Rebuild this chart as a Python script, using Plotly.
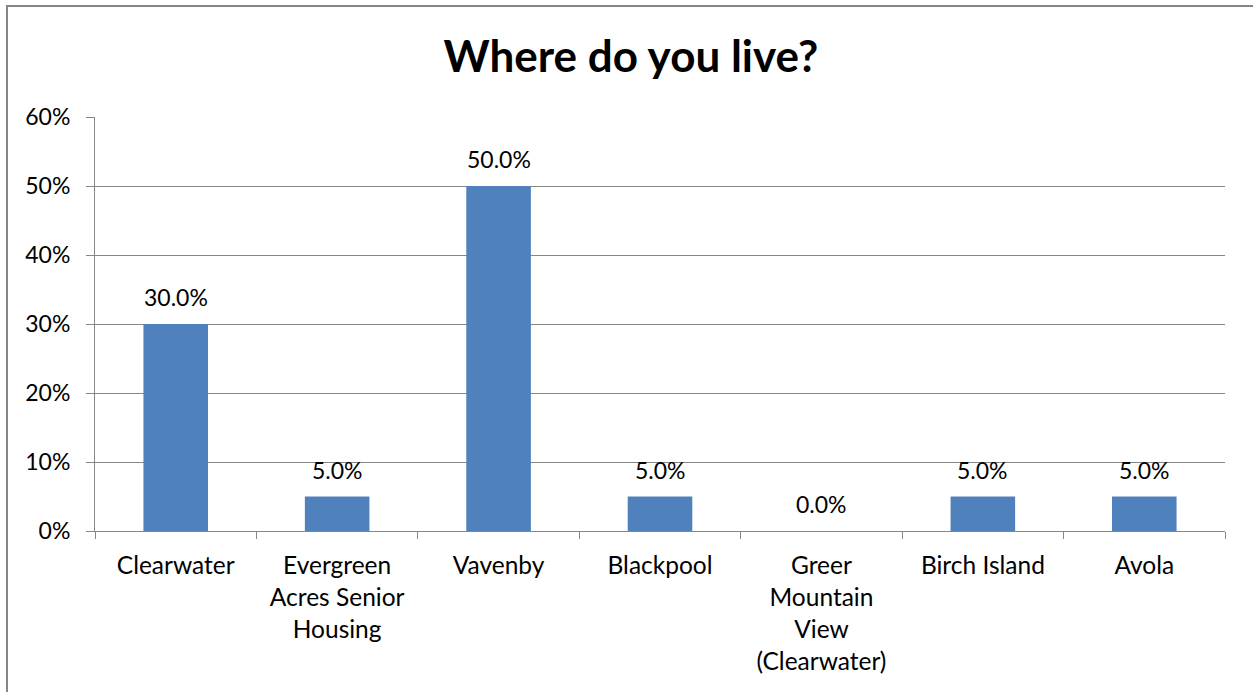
import plotly.graph_objects as go

categories = [
    "Clearwater",
    "Evergreen<br>Acres Senior<br>Housing",
    "Vavenby",
    "Blackpool",
    "Greer<br>Mountain<br>View<br>(Clearwater)",
    "Birch Island",
    "Avola",
]
shares = [0.30, 0.05, 0.50, 0.05, 0.00, 0.05, 0.05]
y_ticks = [0, 0.1, 0.2, 0.3, 0.4, 0.5, 0.6]

FONT = "Lato, 'Open Sans', sans-serif"
AXIS_GRAY = "#868686"

fig = go.Figure(
    go.Bar(
        x=categories,
        y=shares,
        marker=dict(color="#4F81BD", line=dict(width=0)),
        hoverinfo="x+y",
    )
)

# value labels above each bar
for cat, val in zip(categories, shares):
    fig.add_annotation(
        x=cat,
        y=val,
        text=f"{val:.1%}",
        showarrow=False,
        yanchor="bottom",
        yshift=11,
        font=dict(family=FONT, size=23, color="#000000"),
    )

fig.update_layout(
    width=1253,
    height=692,
    paper_bgcolor="white",
    plot_bgcolor="white",
    margin=dict(l=95, r=28, t=117, b=161),
    bargap=0.6,
    showlegend=False,
    font=dict(family=FONT, size=23, color="#000000"),
    title=dict(
        text="<b>Where do you live?</b>",
        x=0.5035,
        xanchor="center",
        y=0.918,
        yanchor="middle",
        font=dict(family=FONT, size=44, color="#000000"),
    ),
)

fig.update_yaxes(
    range=[0, 0.6],
    tickvals=y_ticks,
    tickformat=".0%",
    showgrid=True,
    gridcolor=AXIS_GRAY,
    gridwidth=1,
    showline=True,
    linecolor=AXIS_GRAY,
    linewidth=1,
    ticks="outside",
    ticklen=8,
    tickcolor=AXIS_GRAY,
    ticklabelstandoff=11,
    tickfont=dict(family=FONT, size=23, color="#000000"),
    zeroline=False,
)

fig.update_xaxes(
    type="category",
    showline=True,
    linecolor=AXIS_GRAY,
    linewidth=1,
    ticks="outside",
    tickson="boundaries",
    ticklen=7,
    tickcolor=AXIS_GRAY,
    ticklabelstandoff=13,
    tickfont=dict(family=FONT, size=24.5, color="#000000"),
    showgrid=False,
)

# outer chart frame, running off the right and bottom edges
fig.add_shape(
    type="rect",
    xref="paper",
    yref="paper",
    x0=-88 / 1130,
    x1=1.2,
    y0=-0.6,
    y1=1 + 111 / 414,
    line=dict(color=AXIS_GRAY, width=2),
    fillcolor="rgba(0,0,0,0)",
    layer="below",
)

fig.write_html("out.html")
